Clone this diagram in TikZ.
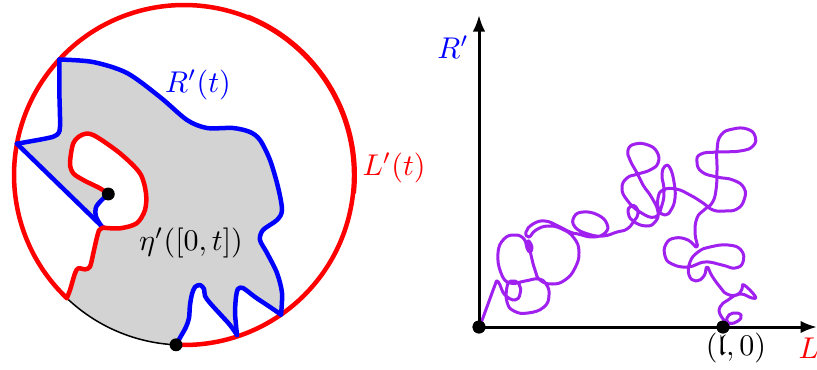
\documentclass[tikz,border=0pt]{standalone}
\usepackage{amssymb}
\usetikzlibrary{arrows.meta,calc}
\definecolor{greyfill}{RGB}{211,211,211}
\definecolor{bmpurple}{RGB}{160,32,240}
\begin{document}
\begin{tikzpicture}[x=0.33333pt,y=-0.33333pt,
  bluecurve/.style={blue, line width=1.5pt, line join=round, line cap=round},
  redcurve/.style={red, line width=1.5pt, line join=round, line cap=round},
  axisline/.style={line width=1pt, -{Latex[length=5.5pt,width=4.2pt]}},
  bmcurve/.style={bmpurple, line width=1pt, line join=round, line cap=round},
  dot/.style={circle, fill=black, inner sep=0pt, minimum size=4.3pt},
  lbl/.style={inner sep=0pt}]
\useasboundingbox (0,0) rectangle (817,369);
% key points of the disk
\coordinate (C) at (184,175);
\coordinate (A) at (59.3,59.5);
\coordinate (B) at (16.9,143.7);
\coordinate (D) at (281,314.6);
\coordinate (E) at (237,335);
\coordinate (F) at (176,344.8);
\coordinate (G) at (66.8,298.1);
\coordinate (H) at (103.3,227.7);
\coordinate (K) at (108.3,194);
% grey hull
\fill[greyfill] plot[smooth] coordinates {(16.9,143.7) (46.7,138.3) (56.7,135) (60,126.7) (59.3,90) (59.3,59.5)}
  -- plot[smooth] coordinates {(59.3,59.5) (93,62) (127,73) (160,97) (187,120) (207,128) (233,128) (250,132) (260,140) (270,160) (278,187) (282,210) (277,220) (263,230) (260,240) (267,253) (277,273) (282,293) (281,314.6)}
  -- plot[smooth] coordinates {(281,314.6) (270,307) (255,297) (243,288) (238,289) (236,297) (235,312) (236,325) (237,335)}
  -- plot[smooth] coordinates {(237,335) (230,325) (220,314) (210,303) (205,296) (204,289) (200,285) (195,287) (192,294) (190,305) (189,318) (186,327) (181,336) (176,344.8)}
  arc[start angle=92.7, end angle=133.6, radius=170]
  -- plot[smooth] coordinates {(66.8,298.1) (70,290) (75,273.3) (78.3,268.3) (85,269.3) (90,266.7) (93.3,253.3) (96.7,238.3) (99.3,230) (103.3,227.7)}
  -- cycle;
% hole
\fill[white] plot[smooth] coordinates {(103.3,227.7) (120,228.3) (136.7,223.3) (145,210) (146,193.3) (140,173.3) (120,153.3) (93.3,135) (81.7,135) (73.3,143.3) (70,163.3) (73.3,173.3) (83.3,180) (100,188.3) (108.3,194)}
  -- plot[smooth] coordinates {(108.3,194) (101.7,200) (96,207.3) (96,216.7) (101.7,226.7) (103.3,227.7)} -- cycle;
% circle
\draw[line width=0.5pt] (C) circle[radius=170];
\draw[redcurve] (G) arc[start angle=133.6, end angle=452.7, radius=170];
\draw[redcurve, line width=1.3pt] ($(C)+(292:171)$) arc[start angle=292, end angle=366, radius=171];
% blue boundary R'
\draw[bluecurve] plot[smooth] coordinates {(16.9,143.7) (46.7,138.3) (56.7,135) (60,126.7) (59.3,90) (59.3,59.5)};
\draw[bluecurve] plot[smooth] coordinates {(59.3,59.5) (93,62) (127,73) (160,97) (187,120) (207,128) (233,128) (250,132) (260,140) (270,160) (278,187) (282,210) (277,220) (263,230) (260,240) (267,253) (277,273) (282,293) (281,314.6)};
\draw[bluecurve] plot[smooth] coordinates {(281,314.6) (270,307) (255,297) (243,288) (238,289) (236,297) (235,312) (236,325) (237,335)};
\draw[bluecurve] plot[smooth] coordinates {(237,335) (230,325) (220,314) (210,303) (205,296) (204,289) (200,285) (195,287) (192,294) (190,305) (189,318) (186,327) (181,336) (176,344.8)};
\draw[bluecurve] (H) -- (B);
\draw[bluecurve] plot[smooth] coordinates {(108.3,194) (101.7,200) (96,207.3) (96,216.7) (101.7,226.7) (103.3,227.7)};
% red boundary L'
\draw[redcurve] plot[smooth] coordinates {(66.8,298.1) (70,290) (75,273.3) (78.3,268.3) (85,269.3) (90,266.7) (93.3,253.3) (96.7,238.3) (99.3,230) (103.3,227.7)};
\draw[redcurve] plot[smooth] coordinates {(103.3,227.7) (120,228.3) (136.7,223.3) (145,210) (146,193.3) (140,173.3) (120,153.3) (93.3,135) (81.7,135) (73.3,143.3) (70,163.3) (73.3,173.3) (83.3,180) (100,188.3) (108.3,194)};
\node[dot] (tip) at (K) {};
\node[dot] (root) at (F) {};
\node[lbl, text=blue] (Rlab) at (198,85) {$R'(t)$};
\node[lbl, text=red] (Llab) at (394,168) {$L'(t)$};
\node[lbl] (etalab) at (191,243) {$\eta'([0,t])$};
% right panel
\node[dot] (O) at (479,327) {};
\node[dot] (P) at (723,327) {};
\coordinate (Ytip) at (479,15);
\coordinate (Xtip) at (817,327);
\draw[bmcurve] plot[smooth, tension=0.8] coordinates {(479,327) (481,323) (488,304) (495,285) (497,281) (500,285) (505,295) (515,300) (520,294) (519,284) (511,281) (507,287) (507,302) (514,311) (528,313) (544,307) (549,295) (546,284) (538,279) (525,281) (510,283) (501,273) (498,253) (504,239) (515,235) (524,239) (527,248) (530,252) (532,247) (528,241) (531,255) (535,270) (540,280) (552,284) (565,280) (575,268) (579,252) (574,238) (562,229) (548,226) (536,230) (529,237) (526,232) (533,224) (545,221) (558,226) (570,232) (578,234) (593,237) (605,233) (607,224) (598,215) (583,212) (574,217) (575,227) (588,234) (603,236) (617,232) (627,229) (634,221) (638,214) (636,207) (631,206) (628,212) (633,221) (646,226) (655,222) (658,212) (652,198) (643,185) (637,173) (630,160) (628,150) (635,144) (648,145) (657,152) (658,163) (650,170) (638,174) (627,178) (622,188) (627,200) (640,212) (655,217) (662,205) (664,190) (662,175) (665,166) (670,168) (674,182) (675,198) (671,210) (665,215) (659,210) (658,198) (663,190) (676,189) (690,195) (703,203) (713,210) (725,211) (737,209) (744,200) (744,188) (733,180) (717,177) (702,172) (697,162) (701,154) (718,152) (740,151) (753,146) (755,136) (747,129) (733,129) (721,135) (717,150) (717,170) (716,190) (712,203) (704,210) (697,218) (695,233) (697,247) (688,240) (675,238) (666,244) (665,256) (672,264) (688,267) (705,262) (722,265) (735,268) (743,262) (741,250) (728,245) (710,247) (698,252) (690,262) (689,275) (696,281) (704,276) (707,267) (712,276) (720,287) (727,294) (737,295) (742,289) (744,285) (755,296) (752,298) (740,294) (728,300) (720,307) (721,316) (729,323) (738,321) (741,315) (733,313) (727,318) (729,325)};
\draw[axisline] (O.center) -- (Ytip);
\draw[axisline] (O.center) -- (Xtip);
\node[dot] at (O) {};
\node[dot] at (P) {};
\node[lbl, text=blue] (Rax) at (453,47) {$R'$};
\node[lbl] (Plab) at (736,348) {$(\mathfrak{l},0)$};
\node[lbl, text=red, anchor=west] (Lax) at (798,348) {$L$};
\end{tikzpicture}
\end{document}
